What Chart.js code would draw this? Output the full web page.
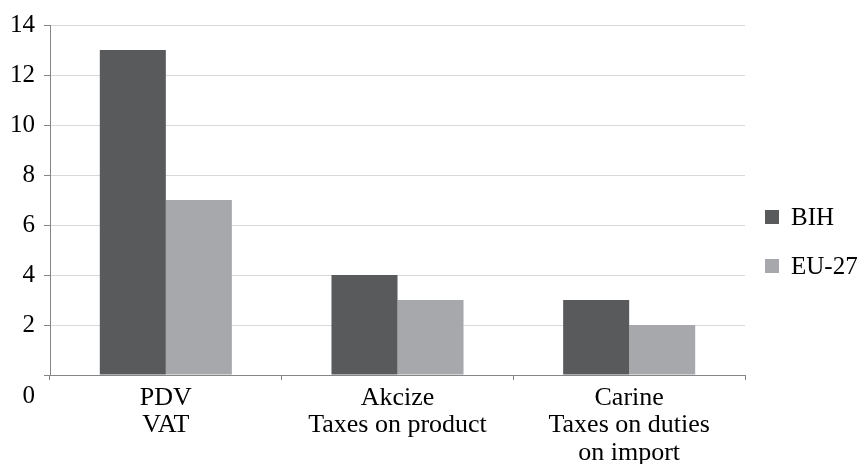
<!DOCTYPE html>
<html>
<head>
<meta charset="utf-8">
<script src="https://cdn.jsdelivr.net/npm/chart.js@4/dist/chart.umd.min.js"></script>
<style>
  html, body { margin: 0; padding: 0; background: #fff; }
  .wrap { position: relative; width: 864px; height: 464px; }
  #chart { display: block; }
  .legend { position: absolute; left: 765px; top: 203px; font-family: "Liberation Serif", serif; font-size: 25px; color: #000; }
  .legend-item { display: flex; align-items: center; height: 28px; margin-bottom: 21px; }
  .legend-box { width: 14px; height: 14px; margin-right: 12px; }
</style>
</head>
<body>
<div class="wrap">
  <canvas id="chart" width="864" height="464"></canvas>
  <div class="legend" id="legend"></div>
</div>
<script>
/* =========================
   DATA
   ========================= */
const categories = [
  ["PDV", "VAT"],
  ["Akcize", "Taxes on product"],
  ["Carine", "Taxes on duties", "on import"],
];
const seriesNames = ["BIH", "EU-27"];
const bihValues = [13, 4, 3];
const euValues = [7, 3, 2];
const seriesColors = ["#595a5c", "#a7a8ab"];

const yMin = 0;
const yMax = 14;
const yStep = 2;

const FONT = "Liberation Serif";

/* =========================
   "0" label sits under the axis in the original
   ========================= */
const zeroLabel = {
  id: "zeroLabel",
  afterDraw(chart) {
    const y = chart.scales.y;
    const ctx = chart.ctx;
    ctx.save();
    ctx.font = `25px "${FONT}"`;
    ctx.fillStyle = "#000";
    ctx.textAlign = "right";
    ctx.textBaseline = "middle";
    ctx.fillText("0", y.right - 15, y.getPixelForValue(0) + 21);
    ctx.restore();
  },
};

const chart = new Chart(document.getElementById("chart"), {
  type: "bar",
  data: {
    labels: categories,
    datasets: [
      { label: seriesNames[0], data: bihValues, backgroundColor: seriesColors[0] },
      { label: seriesNames[1], data: euValues, backgroundColor: seriesColors[1] },
    ],
  },
  options: {
    responsive: false,
    animation: false,
    devicePixelRatio: 1,
    layout: { padding: { top: 25, right: 119, left: 0, bottom: 0 } },
    datasets: { bar: { categoryPercentage: 0.57, barPercentage: 1 } },
    plugins: {
      legend: { display: false },
      tooltip: { enabled: false },
    },
    scales: {
      x: {
        grid: { drawOnChartArea: false, drawTicks: true, tickLength: 5, tickColor: "#868686", offset: true },
        border: { color: "#868686", width: 1 },
        ticks: { color: "#000", font: { family: FONT, size: 26, lineHeight: 1.06 }, padding: 4, maxRotation: 0 },
        afterFit(scale) { scale.height = 89; },
      },
      y: {
        min: yMin,
        max: yMax,
        grid: { color: "#d9d9d9", tickLength: 6, tickColor: "#868686" },
        border: { color: "#868686", width: 1 },
        ticks: {
          stepSize: yStep,
          color: "#000",
          padding: 9,
          font: { family: FONT, size: 25 },
          callback: (v) => (v === 0 ? "" : v),
        },
        afterFit(scale) { scale.width = 50; },
      },
    },
  },
  plugins: [zeroLabel],
});

/* =========================
   LEGEND (html)
   ========================= */
document.getElementById("legend").innerHTML = chart.data.datasets
  .map((d) => `<div class="legend-item"><span class="legend-box" style="background:${d.backgroundColor}"></span>${d.label}</div>`)
  .join("");
</script>
</body>
</html>
